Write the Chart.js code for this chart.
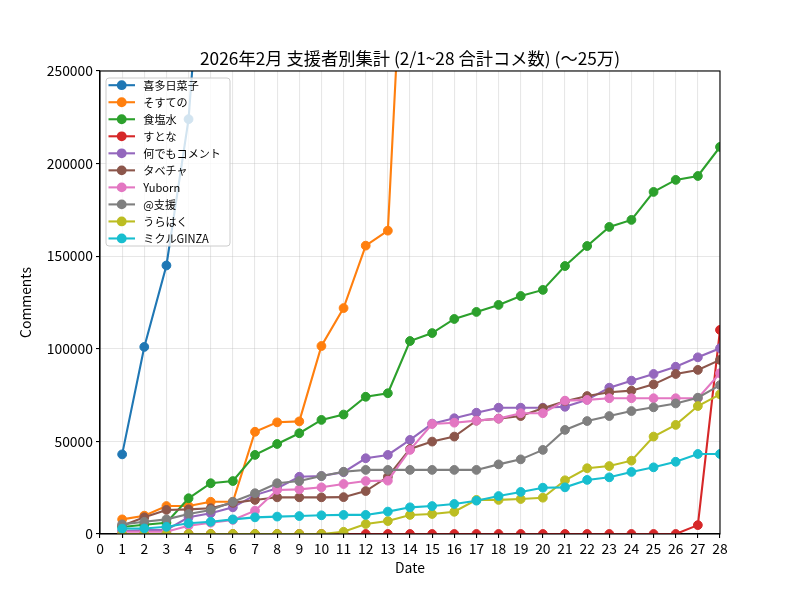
<!DOCTYPE html>
<html>
<head>
<meta charset="utf-8">
<script src="https://cdn.jsdelivr.net/npm/chart.js@4/dist/chart.umd.min.js"></script>
<style>
  html, body { margin: 0; padding: 0; background: #ffffff; }
  #wrap { width: 800px; height: 600px; }
</style>
</head>
<body>
<div id="wrap"><canvas id="c" width="800" height="600"></canvas></div>
<script>
const chartTitle = "2026年2月 支援者別集計 (2/1~28 合計コメ数) (〜25万)";
const days = [1,2,3,4,5,6,7,8,9,10,11,12,13,14,15,16,17,18,19,20,21,22,23,24,25,26,27,28];
const xTicks = [0,1,2,3,4,5,6,7,8,9,10,11,12,13,14,15,16,17,18,19,20,21,22,23,24,25,26,27,28];
const yTicks = [0, 50000, 100000, 150000, 200000, 250000];
const names = ["喜多日菜子","そすての","食塩水","すとな","何でもコメント","タベチャ","Yuborn","@支援","うらはく","ミクルGINZA"];
const colors = ["#1f77b4","#ff7f0e","#2ca02c","#d62728","#9467bd","#8c564b","#e377c2","#7f7f7f","#bcbd22","#17becf"];

const kitaHinako = [43000,101000,145000,224000,385000];
const sosuteno   = [7900,9900,15100,15100,17400,17400,55200,60300,60800,101500,122000,155700,163800,400000];
const shokuensui = [3800,5000,6100,19300,27400,28600,42700,48600,54400,61600,64500,74100,76000,104200,108500,116100,119900,123700,128500,131800,144700,155500,165800,169600,184700,191200,193300,209000];
const sutona     = [0,0,0,0,0,0,0,0,0,0,0,0,0,0,0,0,0,0,0,0,0,0,0,0,0,0,4800,110200];
const nandemo    = [1500,2200,2200,9000,11200,14400,21000,24700,30900,31300,33400,40900,42700,50800,59600,62500,65500,68200,68200,68200,68700,72500,79000,82800,86400,90300,95400,100300];
const tabecha    = [4500,9000,13000,13300,13900,16800,18400,19800,19800,19800,19900,23200,30900,45900,49900,52600,61200,62300,63700,67900,71700,74500,76500,77400,80800,86400,88600,94000];
const yuborn     = [1200,1200,1200,4500,6100,7600,12600,23800,24100,25200,27000,28600,28800,45400,59400,60100,61200,62300,65200,65200,72000,72400,73300,73300,73300,73300,73300,86800];
const shien      = [5200,6600,7900,10800,13000,17400,22000,27400,28600,31300,33600,34600,34600,34600,34600,34600,34600,37600,40300,45400,56200,61000,63700,66400,68400,70500,73600,80400];
const urahaku    = [0,0,0,0,0,0,0,0,0,0,1200,5400,7000,10300,10800,12000,18400,18400,18900,19600,29000,35500,36700,39600,52600,58900,69100,75400];
const mikuru     = [2900,3000,3900,5800,6600,7900,9000,9400,9700,10100,10300,10300,12100,14400,15100,16200,18000,20500,22700,25000,25200,29200,30600,33500,36000,39000,43200,43200];

const series = [kitaHinako, sosuteno, shokuensui, sutona, nandemo, tabecha, yuborn, shien, urahaku, mikuru];

const FONT = "'Noto Sans CJK JP', 'Noto Sans', sans-serif";

const datasets = series.map((vals, i) => ({
  label: names[i],
  data: vals.map((v, k) => ({ x: days[k], y: v })),
  borderColor: colors[i],
  backgroundColor: colors[i],
  pointBackgroundColor: colors[i],
  pointBorderColor: colors[i],
  borderWidth: 2.1,
  pointRadius: 4.4,
  pointBorderWidth: 1,
  pointHoverRadius: 4.4,
  tension: 0,
  fill: false,
  clip: 0,
  order: -i
}));

const framePlugin = {
  id: 'frame',
  afterDatasetsDraw(chart) {
    const { ctx, chartArea: a } = chart;
    ctx.save();
    ctx.strokeStyle = '#000';
    ctx.lineWidth = 1.1;
    ctx.strokeRect(a.left, a.top, a.right - a.left, a.bottom - a.top);
    ctx.restore();
  },
  afterDraw(chart) {
    const { ctx } = chart;
    ctx.save();
    // title
    ctx.fillStyle = '#000';
    ctx.font = "17.3px " + FONT;
    ctx.textAlign = 'center';
    ctx.textBaseline = 'alphabetic';
    ctx.fillText(chartTitle, (chart.chartArea.left + chart.chartArea.right) / 2, 65);
    // legend box
    const bx = 106, by = 78, bw = 124, bh = 168, r = 3;
    ctx.beginPath();
    ctx.moveTo(bx + r, by);
    ctx.lineTo(bx + bw - r, by);
    ctx.arcTo(bx + bw, by, bx + bw, by + r, r);
    ctx.lineTo(bx + bw, by + bh - r);
    ctx.arcTo(bx + bw, by + bh, bx + bw - r, by + bh, r);
    ctx.lineTo(bx + r, by + bh);
    ctx.arcTo(bx, by + bh, bx, by + bh - r, r);
    ctx.lineTo(bx, by + r);
    ctx.arcTo(bx, by, bx + r, by, r);
    ctx.closePath();
    ctx.fillStyle = 'rgba(255,255,255,0.8)';
    ctx.fill();
    ctx.strokeStyle = '#cccccc';
    ctx.lineWidth = 1;
    ctx.stroke();
    chart.data.datasets.forEach((ds, i) => {
      const y = 85.2 + 17.03 * i;
      ctx.strokeStyle = ds.borderColor;
      ctx.lineWidth = 2.1;
      ctx.beginPath();
      ctx.moveTo(108.5, y);
      ctx.lineTo(135, y);
      ctx.stroke();
      ctx.fillStyle = ds.borderColor;
      ctx.beginPath();
      ctx.arc(121.7, y, 4.9, 0, Math.PI * 2);
      ctx.fill();
      ctx.fillStyle = '#000';
      ctx.font = "11.1px " + FONT;
      ctx.textAlign = 'left';
      ctx.textBaseline = 'middle';
      ctx.fillText(ds.label, 143.3, y + 0.5);
    });
    ctx.restore();
  }
};

new Chart(document.getElementById('c'), {
  type: 'line',
  data: { datasets },
  options: {
    responsive: false,
    animation: false,
    events: [],
    layout: { padding: { top: 71, right: 80, left: 0, bottom: 0 } },
    plugins: { legend: { display: false }, title: { display: false }, tooltip: { enabled: false } },
    scales: {
      x: {
        type: 'linear',
        min: 0, max: 28,
        afterBuildTicks(scale) { scale.ticks = xTicks.map(v => ({ value: v })); },
        afterFit(scale) { scale.height = 66; },
        ticks: { autoSkip: false, maxRotation: 0, padding: 2, color: '#000', font: { family: FONT, size: 13.9 },
                 callback: v => String(v) },
        grid: { color: 'rgba(176,176,176,0.3)', lineWidth: 1.1, tickColor: '#000', tickLength: 4, tickWidth: 1.1 },
        border: { display: true, color: '#000', width: 1.1 },
        title: { display: true, text: 'Date', color: '#000', font: { family: FONT, size: 13.9 }, padding: { top: 0, bottom: 24 } }
      },
      y: {
        type: 'linear',
        min: 0, max: 250000,
        afterBuildTicks(scale) { scale.ticks = yTicks.map(v => ({ value: v })); },
        afterFit(scale) { scale.width = 100; },
        ticks: { padding: 3, color: '#000', font: { family: FONT, size: 13.9 }, callback: v => String(v) },
        grid: { color: 'rgba(176,176,176,0.3)', lineWidth: 1.1, tickColor: '#000', tickLength: 4, tickWidth: 1.1 },
        border: { display: true, color: '#000', width: 1.1 },
        title: { display: true, text: 'Comments', color: '#000', font: { family: FONT, size: 13.9 }, padding: { top: 17, bottom: 0 } }
      }
    }
  },
  plugins: [framePlugin]
});
</script>
</body>
</html>
